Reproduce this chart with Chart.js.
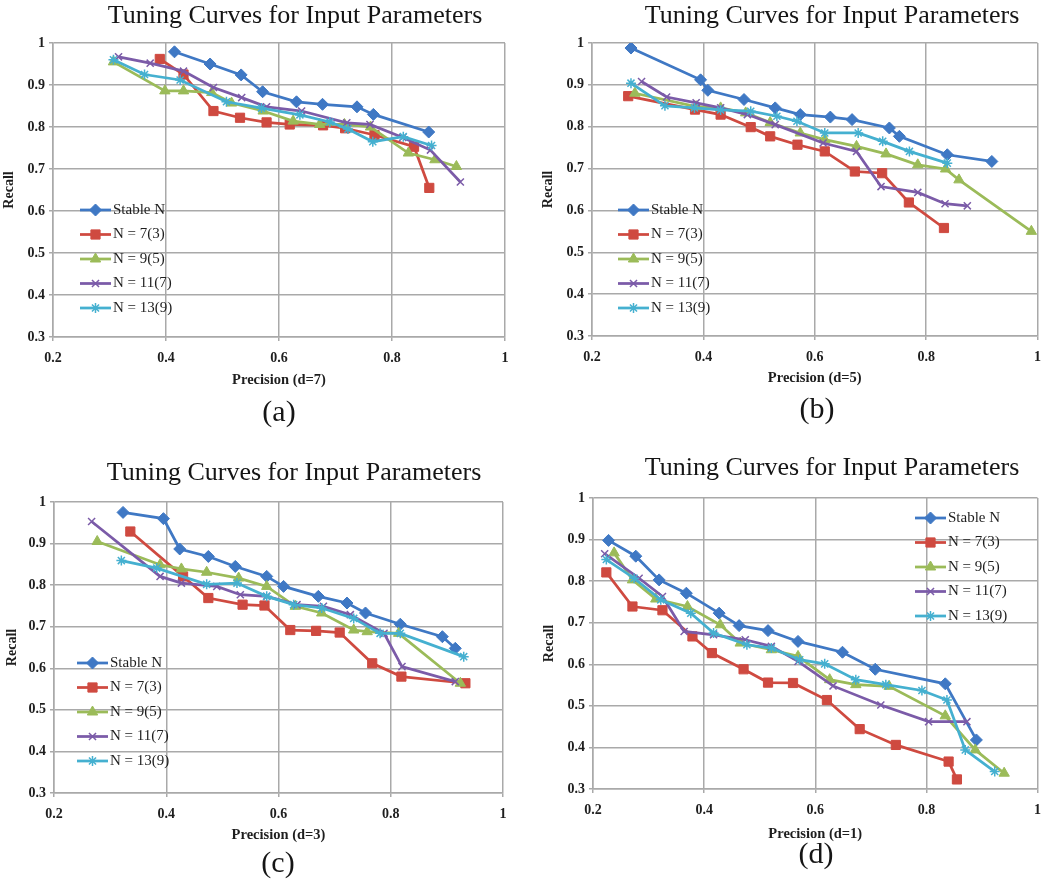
<!DOCTYPE html>
<html>
<head>
<meta charset="utf-8">
<title>Tuning Curves for Input Parameters</title>
<script src="https://cdn.jsdelivr.net/npm/chart.js@4.4.1/dist/chart.umd.min.js"></script>
<style>
    body { margin: 0; background: #fff; }
    #fig { position: relative; width: 1050px; height: 880px; }
    .panel { position: absolute; width: 525px; height: 440px; }
    .panel canvas { position: absolute; left: 0; top: 0; }
    .ttl, .cap {
        position: absolute;
        font-family: "Liberation Serif", serif;
        color: #151515;
        white-space: nowrap;
        line-height: 1;
        transform: translate(-50%, -50%);
    }
    .ttl { font-size: 26px; }
    .cap { font-size: 30px; }
</style>
</head>
<body>
<div id="fig"></div>

<script>

// ---- data (precision, recall) ----

var seriesNames = ['Stable N', 'N = 7(3)', 'N = 9(5)', 'N = 11(7)', 'N = 13(9)'];
var xTicks      = [0.2, 0.4, 0.6, 0.8, 1];
var yTicks      = [0.3, 0.4, 0.5, 0.6, 0.7, 0.8, 0.9, 1];
var panelTitle  = 'Tuning Curves for Input Parameters';
var xLabels     = ['Precision (d=7)', 'Precision (d=5)', 'Precision (d=3)', 'Precision (d=1)'];
var yLabel      = 'Recall';
var captions    = ['(a)', '(b)', '(c)', '(d)'];

// (a) d=7
var aStable = [[0.415,0.979],[0.478,0.950],[0.533,0.924],[0.571,0.884],[0.631,0.860],[0.677,0.854],[0.738,0.848],[0.767,0.830],[0.865,0.788]];
var aN7     = [[0.389,0.962],[0.431,0.925],[0.484,0.838],[0.531,0.822],[0.578,0.811],[0.619,0.806],[0.678,0.804],[0.717,0.797],[0.769,0.781],[0.839,0.753],[0.866,0.655]];
var aN9     = [[0.307,0.955],[0.398,0.886],[0.431,0.886],[0.481,0.882],[0.516,0.857],[0.572,0.838],[0.625,0.814],[0.672,0.806],[0.716,0.806],[0.762,0.800],[0.829,0.738],[0.876,0.722],[0.914,0.706]];
var aN11    = [[0.316,0.967],[0.372,0.952],[0.431,0.933],[0.484,0.894],[0.534,0.870],[0.578,0.848],[0.640,0.838],[0.720,0.810],[0.761,0.806],[0.819,0.775],[0.868,0.745],[0.921,0.669]];
var aN13    = [[0.307,0.960],[0.362,0.925],[0.425,0.912],[0.507,0.860],[0.569,0.845],[0.637,0.829],[0.690,0.812],[0.722,0.795],[0.766,0.765],[0.820,0.777],[0.870,0.756]];

// (b) d=5
var bStable = [[0.270,0.988],[0.395,0.912],[0.408,0.887],[0.473,0.865],[0.529,0.845],[0.574,0.829],[0.628,0.823],[0.667,0.817],[0.734,0.797],[0.752,0.777],[0.838,0.733],[0.918,0.717]];
var bN7     = [[0.265,0.873],[0.385,0.841],[0.431,0.829],[0.485,0.799],[0.520,0.777],[0.569,0.757],[0.618,0.741],[0.672,0.693],[0.721,0.689],[0.769,0.619],[0.832,0.558]];
var bN9     = [[0.277,0.880],[0.387,0.848],[0.431,0.845],[0.476,0.833],[0.520,0.810],[0.574,0.785],[0.618,0.769],[0.675,0.753],[0.728,0.735],[0.785,0.709],[0.835,0.699],[0.859,0.673],[0.989,0.550]];
var bN11    = [[0.289,0.908],[0.334,0.871],[0.387,0.857],[0.431,0.845],[0.479,0.829],[0.529,0.805],[0.615,0.761],[0.675,0.741],[0.719,0.657],[0.785,0.643],[0.834,0.616],[0.874,0.611]];
var bN13    = [[0.270,0.904],[0.331,0.850],[0.384,0.845],[0.431,0.840],[0.485,0.837],[0.532,0.825],[0.568,0.813],[0.618,0.785],[0.678,0.785],[0.722,0.765],[0.770,0.741],[0.838,0.713]];

// (c) d=3
var cStable = [[0.323,0.975],[0.395,0.960],[0.424,0.887],[0.475,0.869],[0.523,0.845],[0.579,0.821],[0.609,0.797],[0.671,0.773],[0.722,0.757],[0.755,0.733],[0.817,0.706],[0.892,0.676],[0.915,0.648]];
var cN7     = [[0.336,0.929],[0.430,0.821],[0.475,0.769],[0.536,0.753],[0.575,0.751],[0.621,0.692],[0.667,0.690],[0.709,0.686],[0.767,0.612],[0.819,0.580],[0.933,0.564]];
var cN9     = [[0.277,0.905],[0.389,0.849],[0.427,0.839],[0.472,0.831],[0.529,0.817],[0.579,0.797],[0.630,0.749],[0.677,0.733],[0.734,0.692],[0.758,0.688],[0.814,0.684],[0.924,0.564]];
var cN11    = [[0.267,0.953],[0.389,0.821],[0.427,0.805],[0.490,0.797],[0.532,0.777],[0.579,0.773],[0.633,0.753],[0.680,0.749],[0.728,0.729],[0.788,0.684],[0.820,0.604],[0.915,0.568]];
var cN13    = [[0.320,0.859],[0.383,0.841],[0.472,0.802],[0.526,0.805],[0.579,0.773],[0.627,0.753],[0.677,0.745],[0.734,0.720],[0.781,0.684],[0.817,0.684],[0.930,0.628]];

// (d) d=1
var dStable = [[0.228,0.898],[0.277,0.860],[0.319,0.803],[0.368,0.771],[0.427,0.723],[0.463,0.693],[0.515,0.681],[0.569,0.655],[0.649,0.629],[0.708,0.588],[0.834,0.553],[0.890,0.418]];
var dN7     = [[0.224,0.821],[0.271,0.739],[0.325,0.730],[0.379,0.667],[0.414,0.627],[0.471,0.588],[0.515,0.556],[0.560,0.555],[0.621,0.514],[0.680,0.444],[0.745,0.406],[0.840,0.366],[0.855,0.323]];
var dN9     = [[0.238,0.868],[0.271,0.803],[0.313,0.757],[0.370,0.739],[0.429,0.695],[0.465,0.651],[0.521,0.635],[0.569,0.619],[0.626,0.563],[0.673,0.551],[0.733,0.547],[0.834,0.476],[0.888,0.394],[0.940,0.338]];
var dN11    = [[0.221,0.866],[0.283,0.807],[0.325,0.763],[0.364,0.679],[0.417,0.671],[0.474,0.659],[0.521,0.643],[0.569,0.607],[0.632,0.548],[0.718,0.502],[0.804,0.462],[0.873,0.462]];
var dN13    = [[0.224,0.852],[0.274,0.807],[0.322,0.755],[0.376,0.723],[0.417,0.675],[0.477,0.647],[0.521,0.639],[0.572,0.611],[0.617,0.601],[0.673,0.563],[0.727,0.551],[0.792,0.537],[0.837,0.514],[0.870,0.394],[0.923,0.342]];

var panels = [
    [aStable, aN7, aN9, aN11, aN13],
    [bStable, bN7, bN9, bN11, bN13],
    [cStable, cN7, cN9, cN11, cN13],
    [dStable, dN7, dN9, dN11, dN13]
];

// ---- styling (Excel 2007 look) ----

var colors   = ['#3f78c4', '#cf4a40', '#9bbb59', '#7b5ba8', '#45b0d0'];
var markers  = ['rectRot', 'rect', 'triangle', 'crossRot', 'star'];
var mSizes   = [6, 6.5, 6, 5, 5];
var mBorders = [1, 1, 1, 1.5, 1.5];
var serif    = '"Liberation Serif", "Times New Roman", serif';
var gridCol  = '#a9a9a9';
var textCol  = '#1e1e1e';

// where things sit inside each 525x440 panel
var boxes = [
    { left: 0,   top: 0,   area: [53, 43, 505, 337], recallX: 9,  precY: 380, title: [295, 15], cap: [279, 411], legend: [80, 210] },
    { left: 525, top: 0,   area: [67, 43, 516, 336], recallX: 23, precY: 378, title: [307, 15], cap: [292, 408], legend: [93, 210] },
    { left: 0,   top: 440, area: [54, 62, 503, 353], recallX: 12, precY: 395, title: [294, 32], cap: [278, 422], legend: [77, 223] },
    { left: 525, top: 440, area: [68, 58, 516, 349], recallX: 24, precY: 394, title: [307, 27], cap: [291, 413], legend: [390, 78] }
];

// legend drawn inside the plot area, like the Excel one
var insideLegend = {
    id: 'insideLegend',
    afterDraw: function(chart, args, opts) {
        var ctx = chart.ctx;
        ctx.save();
        ctx.font = '15px ' + serif;
        ctx.textBaseline = 'middle';
        chart.data.datasets.forEach(function(ds, i) {
            var y  = opts.y + i * opts.gap;
            var x0 = opts.x;
            var x1 = opts.x + opts.len;

            ctx.strokeStyle = ds.borderColor;
            ctx.lineWidth = ds.borderWidth;
            ctx.beginPath();
            ctx.moveTo(x0, y);
            ctx.lineTo(x1, y);
            ctx.stroke();

            ctx.fillStyle = ds.backgroundColor;
            ctx.lineWidth = ds.pointBorderWidth;
            Chart.helpers.drawPoint(ctx, {
                pointStyle: ds.pointStyle,
                radius: ds.pointRadius,
                rotation: 0,
                borderWidth: ds.pointBorderWidth
            }, (x0 + x1) / 2, y);

            ctx.fillStyle = textCol;
            ctx.fillText(ds.label, x1 + 2, y);
        });
        ctx.restore();
    }
};

var fig = document.getElementById('fig');

panels.forEach(function(series, p) {
    var box = boxes[p];
    var L = box.area[0], T = box.area[1], R = box.area[2], B = box.area[3];

    var div = document.createElement('div');
    div.className = 'panel';
    div.style.left = box.left + 'px';
    div.style.top = box.top + 'px';
    fig.appendChild(div);

    var canvas = document.createElement('canvas');
    canvas.width = 525;
    canvas.height = 440;
    div.appendChild(canvas);

    var ttl = document.createElement('div');
    ttl.className = 'ttl';
    ttl.style.left = box.title[0] + 'px';
    ttl.style.top = box.title[1] + 'px';
    ttl.textContent = panelTitle;
    div.appendChild(ttl);

    var cap = document.createElement('div');
    cap.className = 'cap';
    cap.style.left = box.cap[0] + 'px';
    cap.style.top = box.cap[1] + 'px';
    cap.textContent = captions[p];
    div.appendChild(cap);

    var datasets = series.map(function(pts, i) {
        return {
            label: seriesNames[i],
            data: pts.map(function(pt) { return { x: pt[0], y: pt[1] }; }),
            showLine: true,
            tension: 0,
            borderColor: colors[i],
            backgroundColor: colors[i],
            borderWidth: 2.75,
            pointStyle: markers[i],
            pointRadius: mSizes[i],
            pointHoverRadius: mSizes[i],
            pointBorderWidth: mBorders[i],
            order: 4 - i
        };
    });

    new Chart(canvas, {
        type: 'scatter',
        data: { datasets: datasets },
        options: {
            responsive: false,
            animation: false,
            devicePixelRatio: 1,
            layout: { padding: { left: 0, top: T, right: 525 - R, bottom: 0 } },
            plugins: {
                legend: { display: false },
                tooltip: { enabled: false },
                insideLegend: { x: box.legend[0], y: box.legend[1], gap: 24.5, len: 31 }
            },
            scales: {
                x: {
                    type: 'linear',
                    min: 0.2,
                    max: 1,
                    afterBuildTicks: function(s) { s.ticks = xTicks.map(function(v) { return { value: v }; }); },
                    afterFit: function(s) { s.height = 440 - B; },
                    grid: { color: gridCol, lineWidth: 1.5, tickLength: 4 },
                    border: { color: gridCol, width: 1.5 },
                    ticks: {
                        color: textCol,
                        padding: 9,
                        maxRotation: 0,
                        font: { family: serif, size: 14, weight: 'bold' },
                        callback: function(v) { return String(v); }
                    },
                    title: {
                        display: true,
                        text: xLabels[p],
                        color: textCol,
                        font: { family: serif, size: 14.5, weight: 'bold' },
                        padding: { top: 0, bottom: 440 - 8.7 - box.precY }
                    }
                },
                y: {
                    type: 'linear',
                    min: 0.3,
                    max: 1,
                    afterBuildTicks: function(s) { s.ticks = yTicks.map(function(v) { return { value: v }; }); },
                    afterFit: function(s) { s.width = L; },
                    grid: { color: gridCol, lineWidth: 1.5, tickLength: 4 },
                    border: { color: gridCol, width: 1.5 },
                    ticks: {
                        color: textCol,
                        padding: 4,
                        font: { family: serif, size: 14, weight: 'bold' },
                        callback: function(v) { return String(v); }
                    },
                    title: {
                        display: true,
                        text: yLabel,
                        color: textCol,
                        font: { family: serif, size: 14, weight: 'bold' },
                        padding: { top: Math.max(0, box.recallX - 8.4), bottom: 0 }
                    }
                }
            }
        },
        plugins: [insideLegend]
    });
});

</script>
</body>
</html>
